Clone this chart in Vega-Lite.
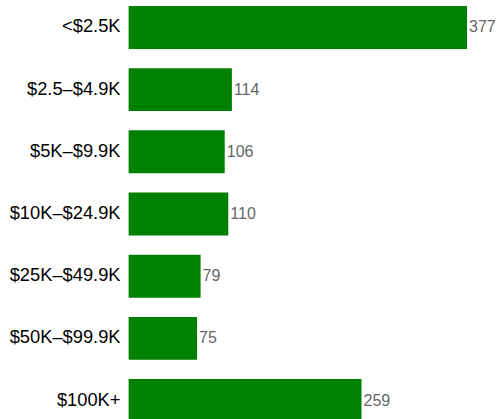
{
  "$schema": "https://vega.github.io/schema/vega-lite/v6.json",
  "autosize": "none",
  "width": 339,
  "height": 416,
  "padding": {"left": 128, "top": 6, "right": 31, "bottom": 0},
  "background": "white",
  "config": {"view": {"stroke": null}},
  "data": {"values": [
    {"bin": "<$2.5K", "count": 377},
    {"bin": "$2.5–$4.9K", "count": 114},
    {"bin": "$5K–$9.9K", "count": 106},
    {"bin": "$10K–$24.9K", "count": 110},
    {"bin": "$25K–$49.9K", "count": 79},
    {"bin": "$50K–$99.9K", "count": 75},
    {"bin": "$100K+", "count": 259}
  ]},
  "encoding": {
    "y": {"field": "bin", "type": "nominal", "sort": null,
      "scale": {"paddingInner": 0.31, "paddingOuter": 0},
      "axis": {"title": null, "domain": false, "ticks": false, "labelPadding": 8, "labelFontSize": 18.3, "labelFont": "Liberation Sans", "labelColor": "#000000"}},
    "x": {"field": "count", "type": "quantitative", "scale": {"domain": [-2.2, 377], "nice": false, "zero": false}, "axis": null}
  },
  "layer": [
    {"mark": {"type": "bar", "color": "#008000"},
     "encoding": {"x2": {"datum": -1.5}}},
    {"mark": {"type": "text", "align": "left", "baseline": "middle", "dx": 2, "fontSize": 16, "font": "Liberation Sans", "color": "#666666"},
     "encoding": {"text": {"field": "count", "type": "quantitative"}}}
  ]
}
